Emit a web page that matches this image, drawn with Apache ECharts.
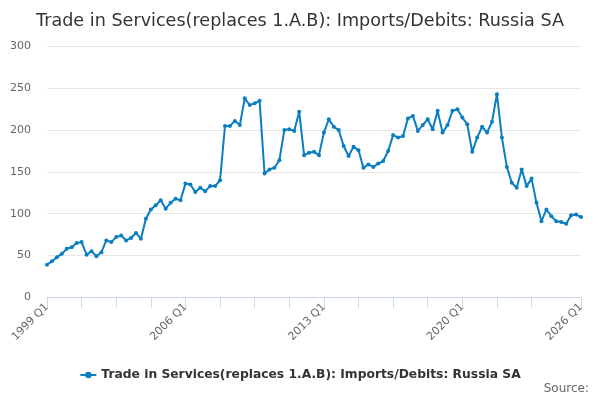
<!DOCTYPE html>
<html>
<head>
<meta charset="utf-8">
<script src="https://cdn.jsdelivr.net/npm/echarts@6/dist/echarts.min.js"></script>
<style>html,body{margin:0;padding:0;background:#fff}#c{width:600px;height:400px}</style>
</head>
<body>
<div id="c"></div>
<script>
var titleText = 'Trade in Services(replaces 1.A.B): Imports/Debits: Russia SA';
var seriesName = 'Trade in Services(replaces 1.A.B): Imports/Debits: Russia SA';
var startYear = 1999;
var endYear = 2026;
var categories = [];
for (var y = startYear; y <= endYear; y++) {
  for (var q = 1; q <= 4; q++) {
    if (y === endYear && q > 1) break;
    categories.push(y + ' Q' + q);
  }
}
var values = [
  39, 43, 48, 52, 58, 60, 65, 66, 51, 55, 49, 54, 68, 66, 72, 74, 68, 71, 77, 70,
  94, 105, 110, 116, 106, 113, 118, 116, 136, 135, 126, 131, 127, 133, 133, 140,
  205, 205, 211, 206, 238, 230, 232, 235, 148, 153, 155, 164, 200, 201, 199, 222,
  170, 173, 174, 170, 197, 213, 204, 200, 181, 169, 180, 176, 155, 159, 156, 160,
  163, 175, 194, 191, 193, 214, 217, 199, 206, 213, 201, 223, 197, 206, 223, 225,
  215, 207, 174, 191, 204, 197, 210, 243, 191, 156, 137, 131, 153, 133, 142, 113,
  91, 105, 97, 91, 90, 88, 98, 99, 96
];
var yTicks = [0, 50, 100, 150, 200, 250, 300];
var sourceText = 'Source:';

var chart = echarts.init(document.getElementById('c'));
var FONT = 'DejaVu Sans';
chart.setOption({
  animation: false,
  backgroundColor: '#ffffff',
  title: {
    text: titleText,
    left: 'center',
    top: 7,
    textStyle: { fontFamily: FONT, fontSize: 17.6, fontWeight: 'normal', color: '#333333' }
  },
  grid: { left: 47, right: 19, top: 46.5, bottom: 102.7, containLabel: false },
  legend: {
    data: [seriesName],
    left: 'center',
    top: 364,
    itemWidth: 16,
    itemHeight: 8,
    textStyle: { fontFamily: FONT, fontSize: 12.3, fontWeight: 'bold', color: '#333333' }
  },
  xAxis: {
    type: 'category',
    data: categories,
    boundaryGap: false,
    axisLine: { lineStyle: { color: '#ccd6eb' } },
    axisTick: {
      length: 10,
      lineStyle: { color: '#ccd6eb' },
      interval: function (i) { return (i % 7 === 0 && i <= 98) || i === categories.length - 1; }
    },
    axisLabel: {
      rotate: 45,
      fontFamily: FONT,
      fontSize: 11,
      color: '#666666',
      margin: 8,
      interval: function (i) { return i % 28 === 0 || i === categories.length - 1; }
    },
    splitLine: { show: false }
  },
  yAxis: {
    type: 'value',
    min: yTicks[0],
    max: yTicks[yTicks.length - 1],
    interval: 50,
    axisLine: { show: false },
    axisTick: { show: false },
    axisLabel: { fontFamily: FONT, fontSize: 11, color: '#666666', margin: 16 },
    splitLine: { lineStyle: { color: '#e6e6e6' } }
  },
  series: [{
    name: seriesName,
    type: 'line',
    data: values,
    symbol: 'circle',
    symbolSize: 4,
    showSymbol: true,
    showAllSymbol: true,
    lineStyle: { width: 2, color: '#0b7dc1' },
    itemStyle: { color: '#0b7dc1' }
  }],
  graphic: [{
    type: 'text',
    right: 11,
    top: 383,
    style: { text: sourceText, fontFamily: FONT, fontSize: 12, fill: '#666666' }
  }]
});
</script>
</body>
</html>
